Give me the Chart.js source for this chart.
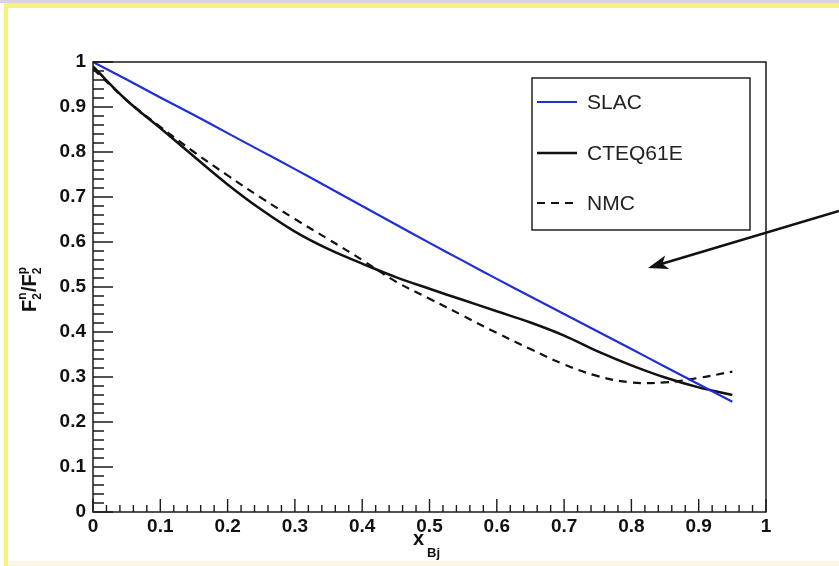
<!DOCTYPE html>
<html>
<head>
<meta charset="utf-8">
<script src="https://cdn.jsdelivr.net/npm/chart.js@4"></script>
<style>
  html, body { margin: 0; padding: 0; background: #fff; }
  body { width: 839px; height: 566px; position: relative; overflow: hidden; }
  #tope { position: absolute; left: 0; top: 0; width: 839px; height: 3px; background: #d9d4dc; }
  #marco { position: absolute; left: 4px; top: 3px; width: 835px; height: 563px;
           border-top: 5px solid #f5f37a; border-left: 4px solid #f5f37a; box-sizing: border-box; }
  #pie { position: absolute; left: 8px; top: 561px; width: 831px; height: 5px; background: #fdf8e4; }
  #lienzo { position: absolute; left: 0; top: 0; }
</style>
</head>
<body>
<div id="tope"></div>
<div id="marco"></div>
<div id="pie"></div>
<canvas id="lienzo" width="839" height="566"></canvas>
<script>
// valores (x de Bjorken cada 0.05)
const xBj = [0, 0.05, 0.1, 0.15, 0.2, 0.25, 0.3, 0.35, 0.4, 0.45, 0.5, 0.55, 0.6, 0.65, 0.7, 0.75, 0.8, 0.85, 0.9, 0.95];
const slac = [1.0, 0.961, 0.921, 0.882, 0.842, 0.802, 0.762, 0.721, 0.680, 0.639, 0.598, 0.558, 0.518, 0.479, 0.440, 0.401, 0.362, 0.323, 0.284, 0.245];
const cteq61e = [0.99, 0.915, 0.853, 0.79, 0.728, 0.672, 0.623, 0.584, 0.552, 0.522, 0.496, 0.471, 0.446, 0.421, 0.392, 0.357, 0.326, 0.299, 0.277, 0.26];
const nmc = [0.985, 0.915, 0.856, 0.80, 0.748, 0.698, 0.651, 0.606, 0.56, 0.512, 0.474, 0.436, 0.398, 0.362, 0.328, 0.302, 0.288, 0.288, 0.298, 0.312];
const etiquetas = ['SLAC', 'CTEQ61E', 'NMC'];

const fuente = '"Liberation Sans", Arial, Helvetica, sans-serif';

function puntos(valores) {
    return xBj.map((x, i) => ({ x: x, y: valores[i] }));
}

// etiquetas estilo ROOT: 0, 0.1, ..., 1
function formatoTick(v) {
    return String(Number(v.toFixed(2)));
}

// ticks hacia dentro, marco, titulos, leyenda y flecha (estilo ROOT)
const pluginRoot = {
    id: 'estiloRoot',
    afterDraw(chart) {
        const ctx = chart.ctx;
        const a = chart.chartArea;
        const sx = chart.scales.x;
        const sy = chart.scales.y;
        ctx.save();

        // marco
        ctx.strokeStyle = '#1a1a1a';
        ctx.lineWidth = 1.5;
        ctx.strokeRect(a.left, a.top, a.right - a.left, a.bottom - a.top);

        // ticks
        ctx.lineWidth = 1.4;
        ctx.beginPath();
        for (let k = 0; k <= 50; k++) {
            const v = k * 0.02;
            const mayor = k % 5 === 0;
            const px = sx.getPixelForValue(v);
            ctx.moveTo(px, a.bottom);
            ctx.lineTo(px, a.bottom - (mayor ? 13 : 7));
            const py = sy.getPixelForValue(v);
            ctx.moveTo(a.left, py);
            ctx.lineTo(a.left + (mayor ? 20 : 11), py);
        }
        ctx.stroke();

        // titulo eje x
        ctx.fillStyle = '#111';
        ctx.textBaseline = 'alphabetic';
        ctx.textAlign = 'left';
        ctx.font = 'bold 20px ' + fuente;
        ctx.fillText('x', 413, 545);
        ctx.font = 'bold 13px ' + fuente;
        ctx.fillText('Bj', 427, 557);

        // titulo eje y (rotado)
        ctx.save();
        ctx.translate(36, 287);
        ctx.rotate(-Math.PI / 2);
        let cx = -25;
        const trozo = (txt, tam, dy) => {
            ctx.font = 'bold ' + tam + 'px ' + fuente;
            ctx.fillText(txt, cx, dy);
            return ctx.measureText(txt).width;
        };
        let w = trozo('F', 20, 0);
        cx += w;
        trozo('n', 12, -10);
        w = trozo('2', 12, 5);
        cx += w + 1;
        w = trozo('/', 20, 0);
        cx += w;
        w = trozo('F', 20, 0);
        cx += w;
        trozo('p', 12, -10);
        trozo('2', 12, 5);
        ctx.restore();

        // leyenda
        const lx = 532, ly = 78, lw = 218, lh = 152;
        ctx.fillStyle = '#fff';
        ctx.fillRect(lx, ly, lw, lh);
        ctx.strokeStyle = '#222';
        ctx.lineWidth = 1.5;
        ctx.strokeRect(lx, ly, lw, lh);
        const filas = [102, 153, 203];
        chart.data.datasets.forEach((ds, i) => {
            ctx.beginPath();
            ctx.strokeStyle = ds.borderColor;
            ctx.lineWidth = ds.borderWidth;
            ctx.setLineDash(ds.borderDash || []);
            ctx.moveTo(537, filas[i]);
            ctx.lineTo(577, filas[i]);
            ctx.stroke();
            ctx.setLineDash([]);
            ctx.fillStyle = '#222';
            ctx.font = '21px ' + fuente;
            ctx.textBaseline = 'middle';
            ctx.fillText(ds.label, 587, filas[i] + 1);
        });

        // flecha
        const x0 = 839, y0 = 211, x1 = 648, y1 = 268;
        const ang = Math.atan2(y1 - y0, x1 - x0);
        const c = Math.cos(ang), s = Math.sin(ang);
        ctx.strokeStyle = '#111';
        ctx.fillStyle = '#111';
        ctx.lineWidth = 2.5;
        ctx.beginPath();
        ctx.moveTo(x0, y0);
        ctx.lineTo(x1 - 12 * c, y1 - 12 * s);
        ctx.stroke();
        ctx.beginPath();
        ctx.moveTo(x1, y1);
        ctx.lineTo(x1 - 20 * c + 7 * s, y1 - 20 * s - 7 * c);
        ctx.lineTo(x1 - 15 * c, y1 - 15 * s);
        ctx.lineTo(x1 - 20 * c - 7 * s, y1 - 20 * s + 7 * c);
        ctx.closePath();
        ctx.fill();

        ctx.restore();
    }
};

const ctx = document.getElementById('lienzo').getContext('2d');
new Chart(ctx, {
    type: 'line',
    data: {
        datasets: [
            {
                label: etiquetas[0],
                data: puntos(slac),
                borderColor: '#1f2fd6',
                borderWidth: 2.2,
                pointRadius: 0,
                tension: 0.3,
                fill: false
            },
            {
                label: etiquetas[1],
                data: puntos(cteq61e),
                borderColor: '#111',
                borderWidth: 2.5,
                pointRadius: 0,
                tension: 0.4,
                fill: false
            },
            {
                label: etiquetas[2],
                data: puntos(nmc),
                borderColor: '#111',
                borderWidth: 2.2,
                borderDash: [8, 6],
                pointRadius: 0,
                tension: 0.4,
                fill: false
            }
        ]
    },
    options: {
        responsive: false,
        animation: false,
        layout: { padding: { left: 0, top: 62, right: 73, bottom: 0 } },
        plugins: {
            legend: { display: false },
            tooltip: { enabled: false }
        },
        scales: {
            x: {
                type: 'linear',
                min: 0,
                max: 1,
                afterFit: (s) => { s.height = 54; },
                ticks: {
                    stepSize: 0.1,
                    padding: 3,
                    color: '#111',
                    font: { family: fuente, size: 19, weight: 'bold' },
                    maxRotation: 0,
                    callback: formatoTick
                },
                grid: { drawOnChartArea: false, drawTicks: false },
                border: { display: false }
            },
            y: {
                type: 'linear',
                min: 0,
                max: 1,
                afterFit: (s) => { s.width = 93; },
                ticks: {
                    stepSize: 0.1,
                    padding: 7,
                    color: '#111',
                    font: { family: fuente, size: 19, weight: 'bold' },
                    callback: formatoTick
                },
                grid: { drawOnChartArea: false, drawTicks: false },
                border: { display: false }
            }
        }
    },
    plugins: [pluginRoot]
});
</script>
</body>
</html>
